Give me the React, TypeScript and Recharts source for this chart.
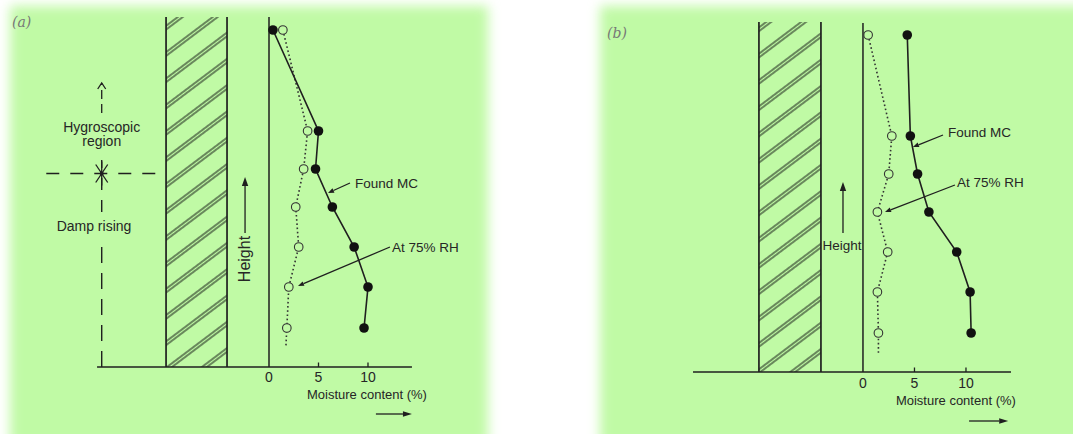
import React from 'react';
import { ScatterChart, Scatter, XAxis, YAxis, ReferenceLine, ReferenceArea, ReferenceDot } from 'recharts';

// heights of the sampling points (shared by both walls), top to bottom
const heights = [33.7, 23.6, 19.8, 16, 12, 8, 3.9];
const tailHeight = 1.9;

// (a) moisture content (%)
const foundA = [0.4, 5.0, 4.7, 6.4, 8.6, 10.0, 9.6];
const rhA = [1.4, 3.9, 3.5, 2.7, 3.0, 2.0, 1.8];
const rhTailA = 1.7;

// (b) moisture content (%)
const foundB = [4.3, 4.6, 5.3, 6.4, 9.1, 10.4, 10.5];
const rhB = [0.5, 2.8, 2.5, 1.4, 2.4, 1.4, 1.5];
const rhTailB = 1.5;

const xTicks = [0, 5, 10];

const GREEN = '#c0faa5';
const INK = '#1f1f1f';
const FONT = '"Liberation Sans", Arial, sans-serif';

const toPoints = (mc: number[], extra?: [number, number]) => {
  const pts = mc.map((v, i) => ({ mc: v, h: heights[i] }));
  if (extra) pts.push({ mc: extra[0], h: extra[1] });
  return pts;
};

const textAt = (key: string, x: number, y: number, value: string, o: any = {}) => (
  <ReferenceDot
    key={key}
    x={x}
    y={y}
    r={0}
    ifOverflow="visible"
    shape={(p: any) => (
      <text
        x={p.cx}
        y={p.cy}
        textAnchor={o.anchor || 'start'}
        fontFamily={o.family || FONT}
        fontSize={o.size || 13.5}
        fontStyle={o.italic ? 'italic' : 'normal'}
        fill={o.color || '#262626'}
        transform={o.rotate ? `rotate(${o.rotate} ${p.cx} ${p.cy})` : undefined}
      >
        {value}
      </text>
    )}
  />
);

const arrowShape = (p: any, head = 7, half = 2.6, open = false, dash?: string, sw = 1.3) => {
  const { x1, y1, x2, y2 } = p;
  const a = Math.atan2(y2 - y1, x2 - x1);
  const bx = x2 - head * Math.cos(a);
  const by = y2 - head * Math.sin(a);
  const nx = -Math.sin(a) * half;
  const ny = Math.cos(a) * half;
  return (
    <g>
      <line x1={x1} y1={y1} x2={open ? x2 : bx} y2={open ? y2 : by} stroke={INK} strokeWidth={sw} strokeDasharray={dash} />
      {open ? (
        <polyline points={`${bx + nx},${by + ny} ${x2},${y2} ${bx - nx},${by - ny}`} fill="none" stroke={INK} strokeWidth={1.3} />
      ) : (
        <polygon points={`${x2},${y2} ${bx + nx},${by + ny} ${bx - nx},${by - ny}`} fill={INK} />
      )}
    </g>
  );
};

const arrow = (key: string, from: [number, number], to: [number, number], head = 7, half = 2.6, open = false, dash?: string) => (
  <ReferenceLine
    key={key}
    segment={[{ x: from[0], y: from[1] }, { x: to[0], y: to[1] }]}
    ifOverflow="visible"
    shape={(p: any) => arrowShape(p, head, half, open, dash)}
  />
);

const seg = (key: string, from: [number, number], to: [number, number], w = 1.5, dash?: string) => (
  <ReferenceLine
    key={key}
    segment={[{ x: from[0], y: from[1] }, { x: to[0], y: to[1] }]}
    stroke={INK}
    strokeWidth={w}
    strokeDasharray={dash}
    ifOverflow="visible"
  />
);

const filledDot = (p: any) => <circle cx={p.cx} cy={p.cy} r={4.8} fill="#111" />;
const openDot = (p: any) => <circle cx={p.cx} cy={p.cy} r={4.3} fill={GREEN} stroke="#333" strokeWidth={1.1} />;
const noDot = () => <g />;

function Panel(props: any) {
  const c = props.cfg;
  const found = toPoints(c.found);
  const rh = toPoints(c.rh);
  const rhLine = toPoints(c.rh, [c.rhTail, tailHeight]);
  return (
    <div style={{ position: 'absolute', left: c.left, top: c.top }}>
      <ScatterChart width={c.width} height={c.height} margin={{ top: 0, right: 0, bottom: 0, left: 0 }}>
        <defs>
          <pattern id={c.id} patternUnits="userSpaceOnUse" width="12" height="21" patternTransform="rotate(-37)">
            <line x1="0" y1="3" x2="12" y2="3" stroke="#2c3a2a" strokeWidth="1.2" />
            <line x1="0" y1="6" x2="12" y2="6" stroke="#2c3a2a" strokeWidth="1.2" />
          </pattern>
        </defs>
        <XAxis type="number" dataKey="mc" domain={c.xDomain} allowDataOverflow hide />
        <YAxis type="number" dataKey="h" domain={c.yDomain} allowDataOverflow hide />

        <ReferenceArea x1={c.wall[0]} x2={c.wall[1]} y1={0} y2={c.wallTop} fill={`url(#${c.id})`} fillOpacity={1} stroke="none" ifOverflow="visible" />
        {seg('wl', [c.wall[0], 0], [c.wall[0], c.wallTop], 1.7)}
        {seg('wr', [c.wall[1], 0], [c.wall[1], c.wallTop], 1.7)}
        {seg('ax', [c.axisFrom, 0], [c.axisTo, 0], 1.7)}
        {seg('ay', [0, 0], [0, c.yTop], 1.5)}
        {xTicks.slice(1).map((t) => seg(`t${t}`, [t, 0], [t, 0.45], 1.3))}
        {xTicks.map((t) => textAt(`tl${t}`, t, c.tickY, String(t), { anchor: 'middle', size: 14 }))}
        {textAt('xl', c.xLabel[0], c.xLabel[1], 'Moisture content (%)', { size: 13 })}
        {arrow('xa', c.xArrow[0], c.xArrow[1], 9, 2.8)}
        {textAt('tag', c.tag[0], c.tag[1], c.tagText, { italic: true, family: '"DejaVu Serif", "Liberation Serif", serif', size: 14, color: '#777' })}

        {c.extras}

        {arrow('ha', c.heightArrow[0], c.heightArrow[1], 9, 3.2)}
        {textAt('ht', c.heightText[0], c.heightText[1], 'Height', c.heightTextOpts)}

        {textAt('fm', c.foundText[0], c.foundText[1], 'Found MC')}
        {arrow('fma', c.foundLeader[0], c.foundLeader[1], 6, 2.4)}
        {textAt('rt', c.rhText[0], c.rhText[1], 'At 75% RH')}
        {arrow('rta', c.rhLeader[0], c.rhLeader[1], 6, 2.4)}

        <Scatter data={rhLine} shape={noDot} line={{ stroke: '#333', strokeWidth: 1.6, strokeDasharray: '1.6 2.6' }} isAnimationActive={false} />
        <Scatter data={rh} shape={openDot} isAnimationActive={false} />
        <Scatter data={found} shape={filledDot} line={{ stroke: INK, strokeWidth: 1.6 }} isAnimationActive={false} />
      </ScatterChart>
    </div>
  );
}

const asterisk = (p: any) => (
  <g stroke={INK} strokeWidth={1.3}>
    <line x1={p.cx} y1={p.cy - 12} x2={p.cx} y2={p.cy + 12} />
    <line x1={p.cx - 6} y1={p.cy - 9} x2={p.cx + 6} y2={p.cy + 9} />
    <line x1={p.cx + 6} y1={p.cy - 9} x2={p.cx - 6} y2={p.cy + 9} />
    <circle cx={p.cx} cy={p.cy} r={2} fill={INK} stroke="none" />
  </g>
);

const panelA = {
  id: 'hatch-a',
  left: 5,
  top: 12,
  width: 470,
  height: 415,
  xDomain: [-26.67, 20.81],
  yDomain: [-6, 35.5],
  found: foundA,
  rh: rhA,
  rhTail: rhTailA,
  wall: [-10.4, -4.24],
  wallTop: 35,
  axisFrom: -17.37,
  axisTo: 14.44,
  yTop: 35,
  tickY: -1.45,
  xLabel: [3.84, -3.2],
  xArrow: [[10.8, -4.7], [14.44, -4.7]],
  tag: [-25.96, 34.0],
  tagText: '(a)',
  heightArrow: [[-2.42, 13.4], [-2.42, 19.0]],
  heightText: [-1.9, 10.8],
  heightTextOpts: { anchor: 'middle', rotate: -90, size: 16 },
  foundText: [8.69, 17.95],
  foundLeader: [[8.18, 18.4], [5.96, 17.4]],
  rhText: [12.42, 11.55],
  rhLeader: [[12.22, 12.0], [2.93, 8.1]],
  extras: [
    seg('dh', [-22.5, 19.35], [-10.4, 19.35], 1.4, '13 11'),
    arrow('dv1', [-16.9, 25.4], [-16.9, 28.4], 6, 4, true, '9 5'),
    seg('dv2', [-16.9, 15.5], [-16.9, 20.7], 1.4, '12 10'),
    seg('dv3', [-16.9, 0], [-16.9, 12.5], 1.4, '16 10'),
    <ReferenceDot key="ast" x={-16.9} y={19.35} r={0} ifOverflow="visible" shape={asterisk} />,
    textAt('hy1', -16.9, 23.55, 'Hygroscopic', { anchor: 'middle', size: 14 }),
    textAt('hy2', -16.9, 22.15, 'region', { anchor: 'middle', size: 14 }),
    textAt('dr', -17.68, 13.65, 'Damp rising', { anchor: 'middle', size: 14 }),
  ],
};

const panelB = {
  id: 'hatch-b',
  left: 600,
  top: 12,
  width: 473,
  height: 415,
  xDomain: [-25.53, 20.39],
  yDomain: [-5.5, 36],
  found: foundB,
  rh: rhB,
  rhTail: rhTailB,
  wall: [-10.1, -4.08],
  wallTop: 35,
  axisFrom: -16.5,
  axisTo: 14.37,
  yTop: 34.9,
  tickY: -1.6,
  xLabel: [3.2, -3.3],
  xArrow: [[10.3, -4.9], [14.1, -4.9]],
  tag: [-24.85, 33.4],
  tagText: '(b)',
  heightArrow: [[-1.94, 13.9], [-1.94, 19.0]],
  heightText: [-2.04, 12.2],
  heightTextOpts: { anchor: 'middle', size: 13.5 },
  foundText: [8.25, 23.5],
  foundLeader: [[7.77, 23.7], [4.85, 22.5]],
  rhText: [9.13, 18.5],
  rhLeader: [[8.93, 18.7], [2.14, 16.0]],
  extras: [],
};

export default function App() {
  return (
    <div style={{ position: 'absolute', left: 0, top: 0, width: 1073, height: 434, background: '#fff', overflow: 'hidden' }}>
      <div style={{ position: 'absolute', left: 10, top: 6, width: 478, height: 440, background: GREEN, filter: 'blur(6px)' }} />
      <div style={{ position: 'absolute', left: 600, top: 6, width: 500, height: 440, background: GREEN, filter: 'blur(6px)' }} />
      <Panel cfg={panelA} />
      <Panel cfg={panelB} />
    </div>
  );
}
